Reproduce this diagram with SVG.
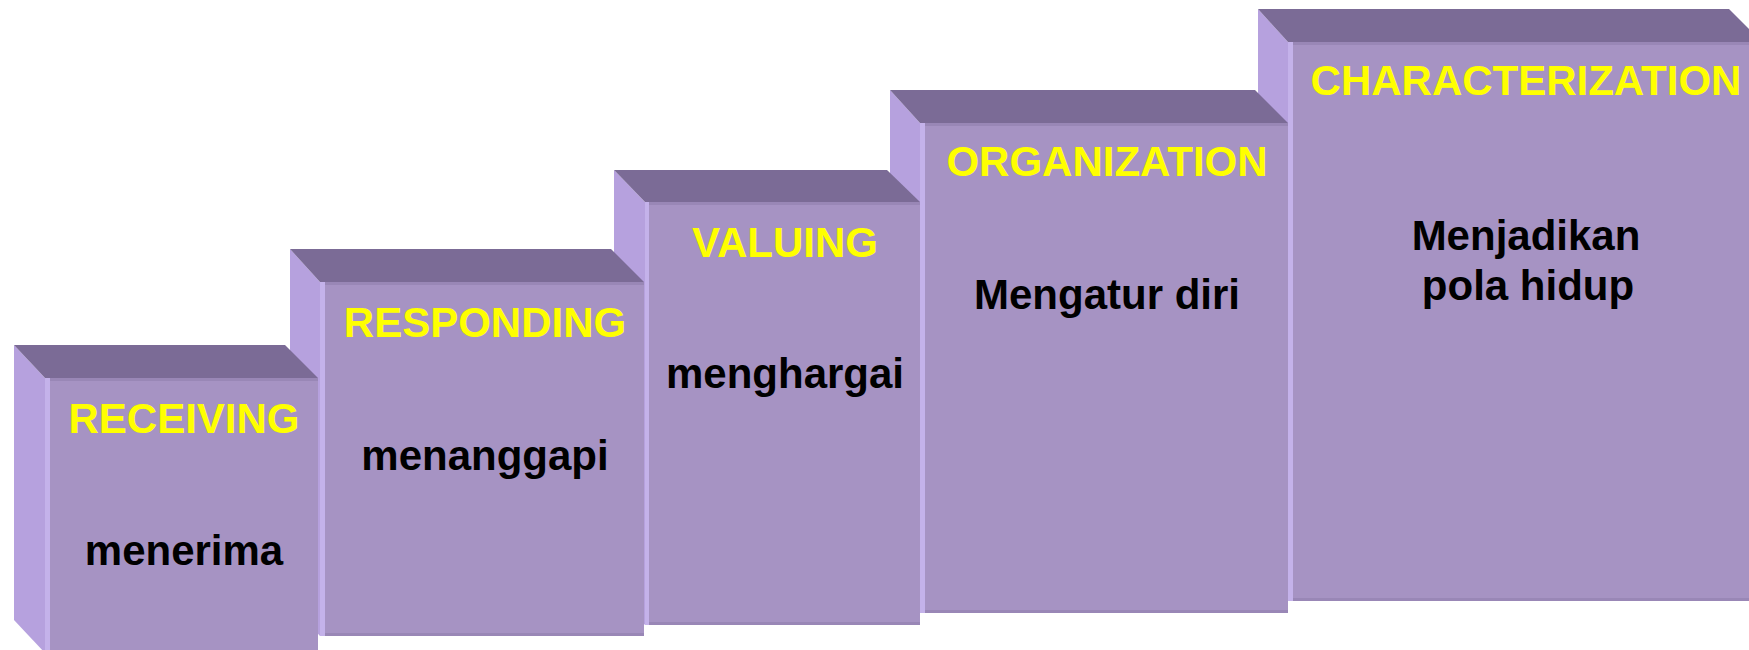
<svg xmlns="http://www.w3.org/2000/svg" width="1749" height="650" viewBox="0 0 1749 650">
<style>
.top{fill:#7b6b96}
.left{fill:#b6a1de}
.stripe{fill:#c4b2ea}
.front{fill:#a693c3}
.band{fill:#9987b6}
.t{font-family:"Liberation Sans",Arial,sans-serif;font-weight:bold;font-size:42px;text-anchor:middle}
.y{fill:#ffff00}
.k{fill:#000000}
</style>
<rect width="1749" height="650" fill="#ffffff"/>
<g id="box5">
<polygon class="left" points="1258,9 1288,42 1288,601 1258,568"/>
<rect class="stripe" x="1288" y="42" width="5" height="559"/>
<polygon class="top" points="1258,9 1729,9 1762,42 1288,42"/>
<rect class="front" x="1293" y="42" width="470" height="559"/>
<rect class="band" x="1293" y="42" width="470" height="3"/>
<rect class="band" x="1293" y="598" width="470" height="3"/>
<text class="t y" x="1526" y="95">CHARACTERIZATION</text>
<text class="t k" x="1526" y="250">Menjadikan</text>
<text class="t k" x="1528" y="300">pola hidup</text>
</g>
<g id="box4">
<polygon class="left" points="890,90 920,123 920,613 890,580"/>
<rect class="stripe" x="920" y="123" width="5" height="490"/>
<polygon class="top" points="890,90 1255,90 1288,123 920,123"/>
<rect class="front" x="925" y="123" width="363" height="490"/>
<rect class="band" x="925" y="123" width="363" height="3"/>
<rect class="band" x="925" y="610" width="363" height="3"/>
<text class="t y" x="1107" y="176">ORGANIZATION</text>
<text class="t k" x="1107" y="309">Mengatur diri</text>
</g>
<g id="box3">
<polygon class="left" points="614,170 645,202 645,625 614,593"/>
<rect class="stripe" x="645" y="202" width="4" height="423"/>
<polygon class="top" points="614,170 887,170 920,202 645,202"/>
<rect class="front" x="649" y="202" width="271" height="423"/>
<rect class="band" x="649" y="202" width="271" height="3"/>
<rect class="band" x="649" y="622" width="271" height="3"/>
<text class="t y" x="785" y="257">VALUING</text>
<text class="t k" x="785" y="388">menghargai</text>
</g>
<g id="box2">
<polygon class="left" points="290,249 320,282 320,636 290,603"/>
<rect class="stripe" x="320" y="282" width="5" height="354"/>
<polygon class="top" points="290,249 611,249 644,282 320,282"/>
<rect class="front" x="325" y="282" width="319" height="354"/>
<rect class="band" x="325" y="282" width="319" height="3"/>
<rect class="band" x="325" y="633" width="319" height="3"/>
<text class="t y" x="485" y="337">RESPONDING</text>
<text class="t k" x="485" y="470">menanggapi</text>
</g>
<g id="box1">
<polygon class="left" points="14,345 45,378 45,653 14,620"/>
<rect class="stripe" x="45" y="378" width="5" height="275"/>
<polygon class="top" points="14,345 285,345 318,378 45,378"/>
<rect class="front" x="50" y="378" width="268" height="275"/>
<rect class="band" x="50" y="378" width="268" height="3"/>
<text class="t y" x="184" y="433">RECEIVING</text>
<text class="t k" x="184" y="565">menerima</text>
</g>
</svg>
